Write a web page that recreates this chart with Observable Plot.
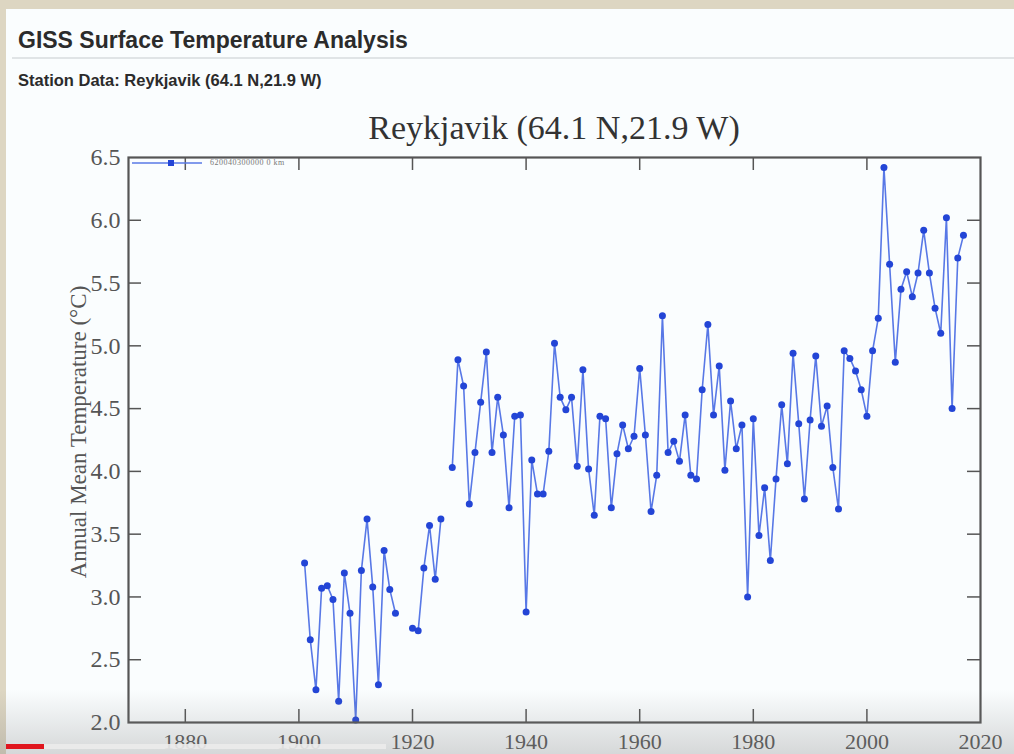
<!DOCTYPE html>
<html>
<head>
<meta charset="utf-8">
<script src="https://cdn.jsdelivr.net/npm/d3@7"></script>
<script src="https://cdn.jsdelivr.net/npm/@observablehq/plot@0.6"></script>
<style>
  html, body { margin: 0; padding: 0; }
  body { width: 1014px; height: 754px; background: #ddd6c2; position: relative; overflow: hidden; }
  #page { position: absolute; left: 6px; top: 9px; width: 1008px; height: 745px; background: #fafdfe; }
  .abs { position: absolute; white-space: nowrap; }
  #h1 { left: 18px; top: 29px; font: bold 23px "Liberation Sans", Arial, sans-serif; color: #2b2b2b; line-height: 1; }
  #rule { left: 12px; top: 57px; width: 1002px; height: 2px; background: #e0e4e6; }
  #h2 { left: 18px; top: 72px; font: bold 16.5px "Liberation Sans", Arial, sans-serif; color: #2b2b2b; line-height: 1; }
  #ctitle { left: 554px; top: 111px; transform: translateX(-50%); font: 34px "Liberation Serif", "Times New Roman", serif; color: #333; line-height: 1; }
  #ylab { left: 78px; top: 432px; transform: translate(-50%, -50%) rotate(-90deg); font: 23px "Liberation Serif", serif; color: #555; line-height: 1; }
  #chart { position: absolute; left: 0; top: 100px; }
  #legend { left: 130px; top: 157px; font: 8px "Liberation Serif", serif; color: #777; }
  #shade { position: absolute; left: 0; top: 690px; width: 1014px; height: 64px; background: linear-gradient(rgba(120,120,120,0), rgba(120,120,120,0.28)); pointer-events: none; }
  #prog { position: absolute; left: 6px; top: 744px; width: 380px; height: 5px; background: rgba(235,235,235,0.9); }
  #progred { position: absolute; left: 6px; top: 744px; width: 38px; height: 5px; background: #e0161e; }
</style>
</head>
<body>
<div id="page"></div>
<div class="abs" id="h1"></div>
<div class="abs" id="rule"></div>
<div class="abs" id="h2"></div>
<div class="abs" id="ctitle"></div>
<div id="chart"></div>
<div class="abs" id="ylab"></div>
<div class="abs" id="legend"></div>
<div id="shade"></div>
<div id="prog"></div>
<div id="progred"></div>
<script>
const pageTitle = "GISS Surface Temperature Analysis";
const pageSubtitle = "Station Data: Reykjavik (64.1 N,21.9 W)";
const chartTitle = "Reykjavik (64.1 N,21.9 W)";
const yLabel = "Annual Mean Temperature (°C)";
const legendLabel = "620040300000 0 km";

const years = d3.range(1901, 2018);
const temps = [
  3.27, 2.66, 2.26, 3.07, 3.09, 2.98, 2.17, 3.19, 2.87, 2.02, // 1901-1910
  3.21, 3.62, 3.08, 2.30, 3.37, 3.06, 2.87, null, null, 2.75, // 1911-1920
  2.73, 3.23, 3.57, 3.14, 3.62, null, 4.03, 4.89, 4.68, 3.74, // 1921-1930
  4.15, 4.55, 4.95, 4.15, 4.59, 4.29, 3.71, 4.44, 4.45, 2.88, // 1931-1940
  4.09, 3.82, 3.82, 4.16, 5.02, 4.59, 4.49, 4.59, 4.04, 4.81, // 1941-1950
  4.02, 3.65, 4.44, 4.42, 3.71, 4.14, 4.37, 4.18, 4.28, 4.82, // 1951-1960
  4.29, 3.68, 3.97, 5.24, 4.15, 4.24, 4.08, 4.45, 3.97, 3.94, // 1961-1970
  4.65, 5.17, 4.45, 4.84, 4.01, 4.56, 4.18, 4.37, 3.00, 4.42, // 1971-1980
  3.49, 3.87, 3.29, 3.94, 4.53, 4.06, 4.94, 4.38, 3.78, 4.41, // 1981-1990
  4.92, 4.36, 4.52, 4.03, 3.70, 4.96, 4.90, 4.80, 4.65, 4.44, // 1991-2000
  4.96, 5.22, 6.42, 5.65, 4.87, 5.45, 5.59, 5.39, 5.58, 5.92, // 2001-2010
  5.58, 5.30, 5.10, 6.02, 4.50, 5.70, 5.88                    // 2011-2017
];
const xTicks = [1880, 1900, 1920, 1940, 1960, 1980, 2000, 2020];
const yTicks = [2.0, 2.5, 3.0, 3.5, 4.0, 4.5, 5.0, 5.5, 6.0, 6.5];

document.getElementById("h1").textContent = pageTitle;
document.getElementById("h2").textContent = pageSubtitle;
document.getElementById("ctitle").textContent = chartTitle;
document.getElementById("ylab").textContent = yLabel;

const data = years.map((y, i) => ({year: y, temp: temps[i]}));
const valid = data.filter(d => d.temp != null);

const W = 1014, H = 654;
const mL = 128, mR = 34, mT = 57, mB = 32;
const fw = W - mL - mR, fh = H - mT - mB;
const tl = 13;
const lineColor = "#5878e6";
const dotColor = "#2345d6";

const chart = Plot.plot({
  width: W, height: H,
  marginLeft: mL, marginRight: mR, marginTop: mT, marginBottom: mB,
  style: {fontFamily: "'Liberation Serif', 'Times New Roman', serif", fontSize: "23px", color: "#555", background: "transparent", overflow: "visible"},
  x: {domain: [1870, 2020], ticks: xTicks, tickFormat: "d", label: null},
  y: {domain: [2, 6.5], ticks: yTicks, tickFormat: ".1f", label: null},
  marks: [
    Plot.line(data, {x: "year", y: "temp", stroke: lineColor, strokeWidth: 1.6, defined: d => d.temp != null}),
    Plot.dot(valid, {x: "year", y: "temp", r: 3.5, fill: dotColor, stroke: "none"}),
    Plot.tickX(xTicks.slice(0, -1), {x: d => d, insetTop: fh - tl, stroke: "#555", strokeWidth: 1.5}),
    Plot.tickX(xTicks.slice(0, -1), {x: d => d, insetBottom: fh - tl, stroke: "#555", strokeWidth: 1.5}),
    Plot.tickY(yTicks.slice(1, -1), {y: d => d, insetRight: fw - tl, stroke: "#555", strokeWidth: 1.5}),
    Plot.tickY(yTicks.slice(1, -1), {y: d => d, insetLeft: fw - tl, stroke: "#555", strokeWidth: 1.5}),
    Plot.axisX({ticks: xTicks, tickFormat: "d", tickSize: 0, tickPadding: 11, fill: "#555", fontSize: 22}),
    Plot.axisY({ticks: yTicks, tickFormat: ".1f", tickSize: 0, tickPadding: 8, fill: "#555", fontSize: 24}),
    Plot.frame({stroke: "#555", strokeWidth: 2.2})
  ]
});
document.getElementById("chart").appendChild(chart);

document.getElementById("legend").innerHTML =
  `<svg width="160" height="14" style="vertical-align:middle"><line x1="2" y1="6" x2="72" y2="6" stroke="${lineColor}" stroke-width="1.5"/><rect x="38" y="3" width="6" height="6" fill="${dotColor}"/></svg>`;
const lt = document.createElement("span");
lt.textContent = legendLabel;
lt.style.cssText = "position:absolute;left:80px;top:1px;letter-spacing:0.5px;";
document.getElementById("legend").appendChild(lt);
</script>
</body>
</html>
